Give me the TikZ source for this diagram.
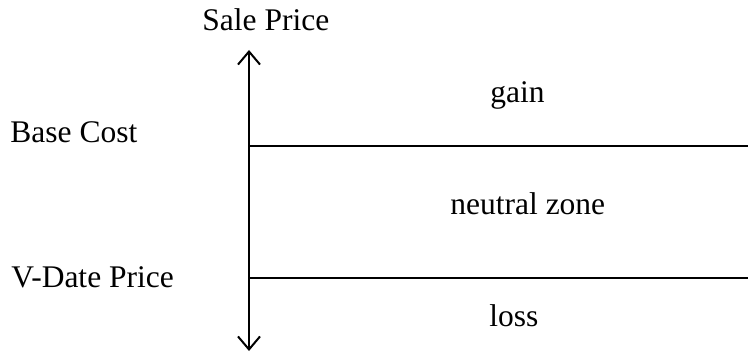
\documentclass[tikz,border=0pt]{standalone}
\usepackage{fontspec}
\setmainfont{Liberation Serif}
\usetikzlibrary{arrows.meta}

\tikzset{
  lbl/.style={inner sep=0pt, anchor=base west, font=\fontsize{15.75}{18}\selectfont},
  lvl/.style={line width=1pt}
}

\begin{document}
\begin{tikzpicture}[x=0.5pt,y=-0.5pt]
  \useasboundingbox (0,0) rectangle (748,353);
  % price axis
  \coordinate (top) at (249,50);
  \coordinate (bot) at (249,351);
  \draw[lvl,{Straight Barb[length=6.5pt,width=11pt]}-{Straight Barb[length=6.5pt,width=11pt]}](top)--(bot);
  % levels
  \coordinate (base) at (249,146);
  \coordinate (baseR) at (748,146);
  \coordinate (vdate) at (249,278);
  \coordinate (vdateR) at (748,278);
  \draw[lvl](base)--(baseR);
  \draw[lvl](vdate)--(vdateR);
  % labels
  \node[lbl] (sale) at (202,31){Sale Price};
  \node[lbl] (basecost) at (10,142){Base Cost};
  \node[lbl] (vdateprice) at (11,287){V-Date Price};
  \node[lbl] (gain) at (490,103){gain};
  \node[lbl] (neutral) at (450,214){neutral zone};
  \node[lbl] (loss) at (489,326){loss};
\end{tikzpicture}
\end{document}
